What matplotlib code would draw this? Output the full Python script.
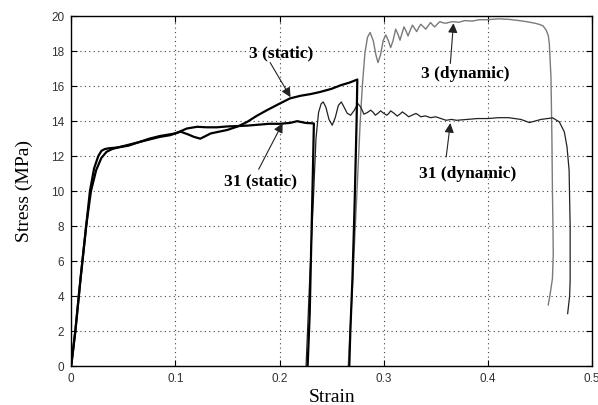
import matplotlib
matplotlib.use('Agg')
import matplotlib.pyplot as plt

# static test, specimen 3
s3_strain = [0, 0.004, 0.009, 0.0144, 0.018, 0.022, 0.026, 0.029, 0.032, 0.036, 0.045, 0.055,
             0.065, 0.075, 0.085, 0.095, 0.1, 0.105, 0.112, 0.118, 0.124, 0.129, 0.134, 0.142,
             0.15, 0.16, 0.169, 0.178, 0.188, 0.2, 0.21, 0.22, 0.23, 0.239, 0.25, 0.259, 0.267,
             0.2747, 0.274, 0.272, 0.27, 0.268, 0.267]
s3_stress = [0, 2, 5, 8, 10, 11.3, 12.0, 12.3, 12.4, 12.45, 12.5, 12.65, 12.8, 13.0, 13.15,
             13.25, 13.3, 13.4, 13.25, 13.1, 13.0, 13.15, 13.3, 13.4, 13.5, 13.7, 13.96, 14.3,
             14.63, 15.0, 15.3, 15.45, 15.55, 15.67, 15.85, 16.06, 16.2, 16.38, 14, 9, 5, 2, 0]

# static test, specimen 31
s31_strain = [0, 0.004, 0.009, 0.0144, 0.019, 0.024, 0.029, 0.034, 0.039, 0.045, 0.055, 0.065,
              0.075, 0.085, 0.095, 0.1, 0.106, 0.111, 0.121, 0.13, 0.14, 0.15, 0.16, 0.17, 0.18,
              0.19, 0.2, 0.21, 0.217, 0.225, 0.233, 0.232, 0.2305, 0.229, 0.227]
s31_stress = [0, 2, 5, 8, 10, 11.2, 11.9, 12.25, 12.4, 12.5, 12.6, 12.8, 12.95, 13.1, 13.2,
              13.3, 13.45, 13.58, 13.68, 13.65, 13.65, 13.7, 13.72, 13.75, 13.8, 13.85, 13.85,
              13.9, 14.0, 13.9, 13.87, 11, 7, 3, 0]

# dynamic test, specimen 3
d3_strain = [0.266, 0.270, 0.274, 0.2775, 0.2795, 0.282, 0.2845, 0.287, 0.290, 0.2925, 0.2945,
             0.297, 0.2995, 0.302, 0.3045, 0.3067, 0.309, 0.3115, 0.3135, 0.3157, 0.3175, 0.3195,
             0.3215, 0.3234, 0.3255, 0.3276, 0.3297, 0.3317, 0.3336, 0.3356, 0.338, 0.3404,
             0.3427, 0.345, 0.347, 0.349, 0.3515, 0.354, 0.357, 0.36, 0.3635, 0.367, 0.372,
             0.378, 0.385, 0.392, 0.40, 0.41, 0.42, 0.43, 0.438, 0.445, 0.449, 0.453, 0.456,
             0.458, 0.459, 0.4606, 0.4615, 0.462, 0.4625, 0.4628, 0.462, 0.46, 0.458]
d3_stress = [0, 4.5, 9.5, 14.0, 16.0, 17.9, 18.8, 19.07, 18.6, 17.8, 17.35, 17.8, 18.6, 18.93,
             18.6, 18.21, 18.6, 19.26, 19.0, 18.63, 19.0, 19.39, 19.15, 18.87, 19.2, 19.49, 19.3,
             19.12, 19.35, 19.54, 19.4, 19.26, 19.45, 19.64, 19.5, 19.39, 19.55, 19.69, 19.62,
             19.6, 19.66, 19.69, 19.65, 19.75, 19.72, 19.8, 19.8, 19.85, 19.82, 19.75, 19.68,
             19.6, 19.54, 19.45, 19.2, 18.9, 18.44, 16.5, 13.0, 10.0, 8.0, 6.4, 5.0, 4.2, 3.5]

# dynamic test, specimen 31
d31_strain = [0.2255, 0.229, 0.2325, 0.235, 0.2375, 0.240, 0.242, 0.2445, 0.2475, 0.2506,
              0.2535, 0.2565, 0.2593, 0.262, 0.265, 0.2683, 0.2715, 0.2753, 0.278, 0.281,
              0.2845, 0.2875, 0.290, 0.292, 0.2945, 0.297, 0.300, 0.303, 0.305, 0.3067, 0.310,
              0.313, 0.3155, 0.318, 0.321, 0.324, 0.3275, 0.331, 0.3335, 0.3356, 0.34, 0.345,
              0.35, 0.355, 0.36, 0.365, 0.37, 0.38, 0.39, 0.40, 0.41, 0.42, 0.4317, 0.44, 0.451,
              0.4622, 0.4686, 0.4734, 0.476, 0.478, 0.479, 0.479, 0.4785, 0.4766]
d31_stress = [0, 5.0, 9.5, 13.0, 14.5, 15.0, 15.1, 14.8, 14.1, 13.77, 14.2, 14.9, 15.1, 14.8,
              14.45, 14.34, 14.6, 15.0, 14.8, 14.4, 14.5, 14.63, 14.5, 14.34, 14.45, 14.59,
              14.45, 14.34, 14.45, 14.59, 14.45, 14.29, 14.4, 14.53, 14.4, 14.25, 14.35, 14.44,
              14.35, 14.25, 14.3, 14.2, 14.25, 14.15, 14.05, 14.1, 14.05, 14.1, 14.15, 14.15,
              14.2, 14.2, 14.1, 13.92, 14.1, 14.19, 13.96, 13.39, 12.53, 11.2, 8.0, 4.9, 4.0, 3.0]

labels = ['3 (static)', '31 (static)', '3 (dynamic)', '31 (dynamic)']
label_pos = [(0.202, 17.9), (0.182, 10.55), (0.378, 16.7), (0.381, 11.0)]
arrow_tail = [(0.191, 17.35), (0.180, 11.25), (0.364, 17.3), (0.360, 11.95)]
arrow_head = [(0.2106, 15.37), (0.203, 13.89), (0.367, 19.6), (0.364, 13.89)]

fig = plt.figure(figsize=(5.98, 4.05), dpi=100)
ax = fig.add_axes([0.119, 0.096, 0.871, 0.864])

ax.plot(d3_strain, d3_stress, color='#7a7a7a', lw=1.0)
ax.plot(d31_strain, d31_stress, color='#222222', lw=0.9)
ax.plot(s3_strain, s3_stress, color='black', lw=1.6)
ax.plot(s31_strain, s31_stress, color='black', lw=1.6)

for txt, pos, tail, head in zip(labels, label_pos, arrow_tail, arrow_head):
    ax.text(pos[0], pos[1], txt, ha='center', va='center', fontsize=12.5,
            fontweight='bold', family='Liberation Serif')
    ax.annotate('', xy=head, xytext=tail,
                arrowprops=dict(arrowstyle='-|>', color='#222222', lw=0.8,
                                mutation_scale=14, shrinkA=0, shrinkB=0))

ax.set_xlim(0, 0.5)
ax.set_ylim(0, 20)
ax.set_xticks([0, 0.1, 0.2, 0.3, 0.4, 0.5])
ax.set_xticklabels(['0', '0.1', '0.2', '0.3', '0.4', '0.5'])
ax.set_yticks(range(0, 21, 2))
ax.grid(True, linestyle=(0, (1, 3)), color='#444444', lw=0.8)
ax.tick_params(direction='in', length=4, top=True, right=True, labelsize=8.5,
               labelcolor='#333333', pad=5)
for lab in ax.get_xticklabels() + ax.get_yticklabels():
    lab.set_family('Liberation Sans')
for sp in ax.spines.values():
    sp.set_linewidth(1.0)

ax.set_xlabel('Strain', fontsize=14, family='Liberation Serif', labelpad=3)
ax.set_ylabel('Stress (MPa)', fontsize=14, family='Liberation Serif', labelpad=13)

fig.savefig('out.png', dpi=100)
